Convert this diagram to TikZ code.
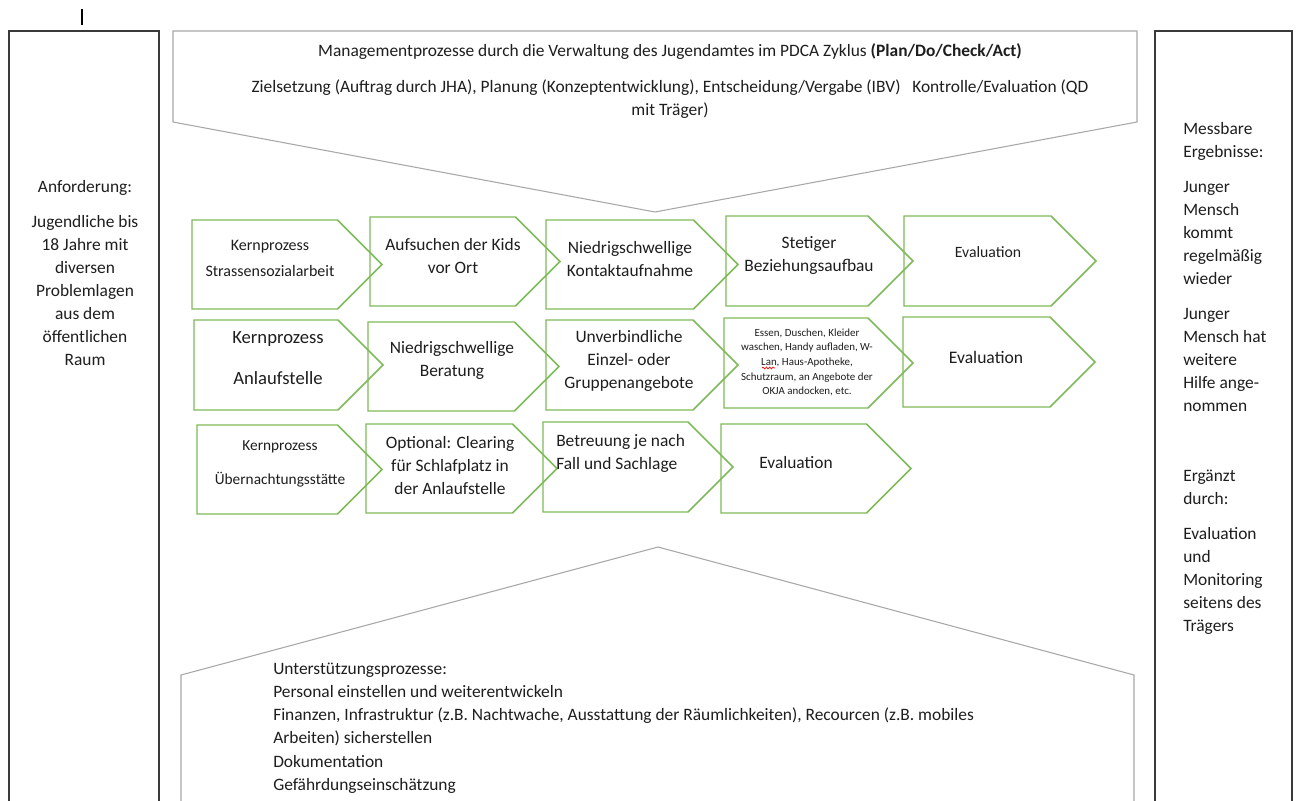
\documentclass[tikz,border=0pt]{standalone}
\usepackage{fontspec}
\setmainfont{Carlito}
\usetikzlibrary{decorations.pathmorphing}
\definecolor{chevgreen}{HTML}{7FBA5A}
\definecolor{framegray}{HTML}{3A3A3A}
\definecolor{arrowgray}{HTML}{A8A8A8}
\definecolor{txt}{HTML}{1E1E1E}
\newcommand{\fsmain}{\fontsize{13.05}{17.25}\selectfont}
\newcommand{\chevron}[4]{\draw[chev] (#1,#3) -- ({#2-(#4-#3)/2},#3) -- (#2,{(#3+#4)/2}) -- ({#2-(#4-#3)/2},#4) -- (#1,#4) -- cycle;}
\begin{document}
\begin{tikzpicture}[x=0.75pt,y=-0.75pt,
  frame/.style={draw=framegray, line width=0.9pt},
  pent/.style={draw=arrowgray, line width=0.8pt},
  chev/.style={draw=chevgreen, line width=1.1pt, line join=miter},
  lbl/.style={align=center, inner sep=0pt, text=txt, font=\fsmain},
  lbll/.style={lbl, align=left, anchor=west}]
\useasboundingbox (0,0) rectangle (1298,800);
\fill[white] (0,0) rectangle (1298,800);
% marker line
\draw[black, line width=0.8pt] (82,9) -- (82,25);
% side frames
\draw[frame] (9,801) -- (9,31) -- (159,31) -- (159,801);
\draw[frame] (1155,801) -- (1155,31) -- (1292,31) -- (1292,801);
% management (top) and support (bottom) pentagons
\draw[pent] (173,31) -- (1137,31) -- (1137,122) -- (655,212) -- (173,122) -- cycle;
\draw[pent] (181,801) -- (181,675) -- (658,547) -- (1134,675) -- (1134,801);
% chevrons row 1
\chevron{192}{382}{220}{309}
\chevron{370}{560}{217}{306}
\chevron{546}{738}{220}{309}
\chevron{726}{913}{216}{306}
\chevron{904}{1096}{216}{306}
% chevrons row 2
\chevron{194}{383}{320}{410}
\chevron{368}{559}{322}{411}
\chevron{546}{738}{320}{410}
\chevron{724}{913}{318}{408}
\chevron{903}{1095}{317}{407}
% chevrons row 3
\chevron{197}{382}{425}{514}
\chevron{366}{557}{424}{513}
\chevron{543}{733}{422}{512}
\chevron{721}{911}{424}{513}
% texts
\node[lbl] (mgmt) at (670,81) {Managementprozesse durch die Verwaltung des Jugendamtes im PDCA Zyklus \textbf{(Plan/Do/Check/Act)}\\[9.75pt]Zielsetzung (Auftrag durch JHA), Planung (Konzeptentwicklung), Entscheidung/Vergabe (IBV)\ \ \ Kontrolle/Evaluation (QD\\mit Träger)};
\node[lbl] (anf) at (85,273.5) {Anforderung:\\[9pt]Jugendliche bis\\18 Jahre mit\\diversen\\Problemlagen\\aus dem\\öffentlichen\\Raum};
\node[lbll] (mess) at (1183,378.5) {Messbare\\Ergebnisse:\\[9pt]Junger\\Mensch\\kommt\\regelmäßig\\wieder\\[9pt]Junger\\Mensch hat\\weitere\\Hilfe ange-\\nommen\\[35pt]Ergänzt\\durch:\\[9pt]Evaluation\\und\\Monitoring\\seitens des\\Trägers};
\node[lbll, font=\fontsize{13.05}{17.4}\selectfont] (unter) at (273,728) {Unterstützungsprozesse:\\Personal einstellen und weiterentwickeln\\Finanzen, Infrastruktur (z.B. Nachtwache, Ausstattung der Räumlichkeiten), Recourcen (z.B. mobiles\\Arbeiten) sicherstellen\\Dokumentation\\Gefährdungseinschätzung};
% row 1 texts
\node[lbl, font=\fontsize{12}{19.5}\selectfont] (k1) at (270,258) {Kernprozess\\Strassensozialarbeit};
\node[lbl] (a1) at (453,256) {Aufsuchen der Kids\\vor Ort};
\node[lbl] (n1) at (630,259) {Niedrigschwellige\\Kontaktaufnahme};
\node[lbl] (s1) at (809,255) {Stetiger\\Beziehungsaufbau};
\node[lbl, font=\fontsize{11.8}{17}\selectfont] (e1) at (988,252) {Evaluation};
% row 2 texts
\node[lbl, font=\fontsize{14}{30.75}\selectfont] (k2) at (278,358.5) {Kernprozess\\Anlaufstelle};
\node[lbl] (n2) at (452,360) {Niedrigschwellige\\Beratung};
\node[lbl] (u2) at (629,360.5) {Unverbindliche\\Einzel- oder\\Gruppenangebote};
\node[lbl, font=\fontsize{8.2}{11}\selectfont] (es2) at (807,362.5) {Essen, Duschen, Kleider\\waschen, Handy aufladen, W-\\Lan, Haus-Apotheke,\\Schutzraum, an Angebote der\\OKJA andocken, etc.};
\draw[red, line width=0.5pt, decorate, decoration={snake, amplitude=0.7pt, segment length=2.5pt}] (762,368) -- (775,368);
\node[lbl, font=\fontsize{13.2}{17}\selectfont] (e2) at (986,357) {Evaluation};
% row 3 texts
\node[lbl, font=\fontsize{11.5}{25.5}\selectfont] (k3) at (280,464) {Kernprozess\\Übernachtungsstätte};
\node[lbl] (o3) at (450,465.5) {Optional: Clearing\\für Schlafplatz in\\der Anlaufstelle};
\node[lbll] (b3) at (556,453) {Betreuung je nach\\Fall und Sachlage};
\node[lbl] (e3) at (796,463) {Evaluation};
\end{tikzpicture}
\end{document}
